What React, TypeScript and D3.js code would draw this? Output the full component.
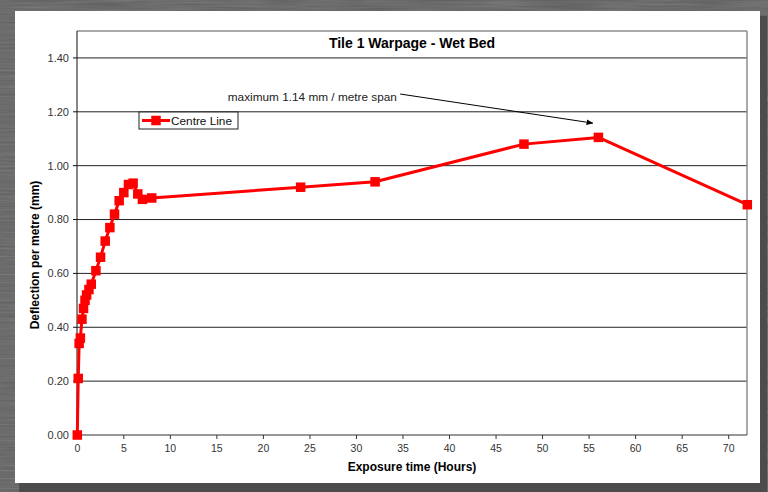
import * as d3 from 'd3';

const hours = [0, 0.1, 0.2, 0.33, 0.5, 0.67, 0.83, 1.0, 1.25, 1.5, 2.0, 2.5, 3.0, 3.5, 4.0, 4.5, 5.0, 5.5, 6.0, 6.5, 7.0, 8.0, 24, 32, 48, 56, 72];
const deflection = [0, 0.21, 0.34, 0.36, 0.43, 0.47, 0.5, 0.52, 0.54, 0.56, 0.61, 0.66, 0.72, 0.77, 0.82, 0.87, 0.9, 0.93, 0.935, 0.895, 0.875, 0.88, 0.92, 0.94, 1.08, 1.105, 0.855];
const xTicks = [0, 5, 10, 15, 20, 25, 30, 35, 40, 45, 50, 55, 60, 65, 70];
const yTicks = [0, 0.2, 0.4, 0.6, 0.8, 1.0, 1.2, 1.4];
const seriesName = 'Centre Line';
const title = 'Tile 1 Warpage - Wet Bed';
const xTitle = 'Exposure time (Hours)';
const yTitle = 'Deflection per metre (mm)';
const note = 'maximum 1.14 mm / metre span';
// annotation anchor points in data units: text end, arrow start, arrow tip
const noteText = [34.35, 1.24];
const noteArrow = [[34.7, 1.266], [55.4, 1.158]];

const W = 768;
const H = 492;
const FONT = '"Liberation Sans", Arial, sans-serif';
const RED = '#ff0000';

export default function App() {
  const left = 77;
  const right = 747;
  const top = 31;
  const bottom = 435;

  const x = d3.scaleLinear().domain([0, 72]).range([left + 0.3, right + 0.3]);
  const y = d3.scaleLinear().domain([0, 1.5]).range([bottom, top]);

  const points = hours.map((h, i) => [h, deflection[i]] as [number, number]);
  const line = d3.line<[number, number]>().x(d => x(d[0])).y(d => y(d[1]));

  const ms = 9.5;
  const legX = 139;
  const legY = 112;

  return (
    <svg width={W} height={H} style={{ position: 'fixed', left: 0, top: 0, display: 'block' }} fontFamily={FONT}>
      <defs>
        <filter id="grain" x="0" y="0" width="100%" height="100%">
          <feTurbulence type="fractalNoise" baseFrequency="0.015 0.5" numOctaves="3" seed="4" />
          <feColorMatrix type="saturate" values="0" />
          <feComponentTransfer>
            <feFuncA type="linear" slope="0.3" />
          </feComponentTransfer>
        </filter>
        <marker id="arrow" viewBox="0 0 10 10" refX="9" refY="5" markerWidth="7" markerHeight="7" orient="auto">
          <path d="M0,1 L10,5 L0,9 Z" fill="#000" />
        </marker>
      </defs>

      {/* backdrop */}
      <rect width={W} height={H} fill="#5e5e5e" />
      <rect width={W} height={H} filter="url(#grain)" />
      <rect x={19} y={16} width={748} height={476} fill="#4c4c4c" />
      <rect x={15} y={11} width={745} height={472} fill="#fff" />

      {/* gridlines */}
      {yTicks.filter(t => t > 0).map(t => (
        <line key={t} x1={left} x2={right} y1={y(t)} y2={y(t)} stroke="#222" strokeWidth={1} />
      ))}

      {/* plot frame */}
      <line x1={left} x2={right} y1={top} y2={top} stroke="#8c8c8c" strokeWidth={1.5} />
      <line x1={right} x2={right} y1={top} y2={bottom} stroke="#8c8c8c" strokeWidth={1.5} />
      <line x1={left} x2={left} y1={top} y2={bottom} stroke="#111" strokeWidth={1} />
      <line x1={left} x2={right} y1={bottom} y2={bottom} stroke="#333" strokeWidth={1} />

      {/* y axis */}
      {yTicks.map(t => (
        <g key={t}>
          <line x1={left - 4} x2={left} y1={y(t)} y2={y(t)} stroke="#111" />
          <text x={left - 8} y={y(t)} dy="0.35em" textAnchor="end" fontSize={11} fill="#333">
            {d3.format('.2f')(t)}
          </text>
        </g>
      ))}

      {/* x axis */}
      {xTicks.map(t => (
        <g key={t}>
          <line x1={x(t)} x2={x(t)} y1={bottom} y2={bottom + 4} stroke="#333" />
          <text x={x(t)} y={452} textAnchor="middle" fontSize={10.5} fill="#333">
            {t}
          </text>
        </g>
      ))}

      {/* titles */}
      <text x={(left + right) / 2} y={48} textAnchor="middle" fontSize={14} fontWeight="bold" fill="#000">
        {title}
      </text>
      <text x={(left + right) / 2} y={471} textAnchor="middle" fontSize={12} fontWeight="bold" fill="#000">
        {xTitle}
      </text>
      <text
        transform={`translate(38.5,255) rotate(-90)`}
        textAnchor="middle"
        fontSize={12}
        fontWeight="bold"
        fill="#000"
      >
        {yTitle}
      </text>

      {/* series */}
      <path d={line(points) ?? ''} fill="none" stroke={RED} strokeWidth={3} strokeLinejoin="round" />
      {points.map((p, i) => (
        <rect key={i} x={x(p[0]) - ms / 2} y={y(p[1]) - ms / 2} width={ms} height={ms} fill={RED} />
      ))}

      {/* annotation */}
      <text x={x(noteText[0])} y={y(noteText[1])} textAnchor="end" fontSize={11.8} fill="#222">
        {note}
      </text>
      <line
        x1={x(noteArrow[0][0])}
        y1={y(noteArrow[0][1])}
        x2={x(noteArrow[1][0])}
        y2={y(noteArrow[1][1])}
        stroke="#000"
        strokeWidth={1}
        markerEnd="url(#arrow)"
      />

      {/* legend */}
      <rect x={legX} y={legY} width={99} height={17} fill="#fff" stroke="#222" strokeWidth={1} />
      <line x1={legX + 3} x2={legX + 31} y1={legY + 8.5} y2={legY + 8.5} stroke={RED} strokeWidth={3} />
      <rect x={legX + 17 - ms / 2} y={legY + 8.5 - ms / 2} width={ms} height={ms} fill={RED} />
      <text x={legX + 32} y={legY + 8.5} dy="0.35em" fontSize={11.8} fill="#111">
        {seriesName}
      </text>
    </svg>
  );
}
